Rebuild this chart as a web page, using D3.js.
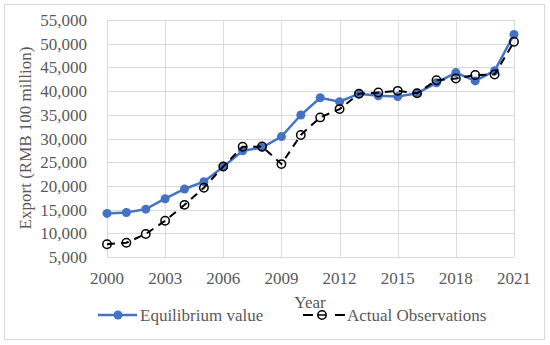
<!DOCTYPE html>
<html>
<head>
<meta charset="utf-8">
<script src="https://cdn.jsdelivr.net/npm/d3@7"></script>
<style>
  body { margin: 0; background: #fff; }
  text { font-family: "Liberation Serif", "Times New Roman", serif; fill: #595959; }
</style>
</head>
<body>
<svg id="chart" width="550" height="345"></svg>
<script>
'use strict';

// data
var years = d3.range(2000, 2022);
var equilibrium = [14200, 14400, 15100, 17300, 19350, 20900, 24050, 27400, 28100, 30400,
                   34950, 38600, 37750, 39450, 39000, 38850, 39550, 41750, 43900, 42150,
                   44300, 51950];
var actual = [7700, 8000, 9850, 12650, 16000, 19600, 24100, 28250, 28300, 24600,
              30750, 34450, 36200, 39450, 39700, 40050, 39550, 42300, 42650, 43400,
              43500, 50400];
var xTicks = [2000, 2003, 2006, 2009, 2012, 2015, 2018, 2021];
var yTicks = d3.range(5000, 55001, 5000);

var svg = d3.select('#chart');

// outer frame
svg.append('rect')
  .attr('x', 4.5).attr('y', 4.5).attr('width', 540).attr('height', 335)
  .attr('fill', '#fff').attr('stroke', '#d9d9d9');

var x = d3.scaleLinear().domain([2000, 2021]).range([107, 514]);
var y = d3.scaleLinear().domain([5000, 55000]).range([257, 20]);

// grid
svg.append('g').selectAll('line').data(yTicks).enter().append('line')
  .attr('x1', x(2000)).attr('x2', x(2021))
  .attr('y1', function(d){ return Math.round(y(d)) + 0.5; })
  .attr('y2', function(d){ return Math.round(y(d)) + 0.5; })
  .attr('stroke', '#d9d9d9');
svg.append('g').selectAll('line').data(xTicks).enter().append('line')
  .attr('y1', y(5000)).attr('y2', y(55000))
  .attr('x1', function(d){ return Math.round(x(d)) + 0.5; })
  .attr('x2', function(d){ return Math.round(x(d)) + 0.5; })
  .attr('stroke', '#d9d9d9');

// tick labels
svg.append('g').selectAll('text').data(yTicks).enter().append('text')
  .attr('x', 87).attr('y', function(d){ return y(d) + 6; })
  .attr('text-anchor', 'end').attr('font-size', 17)
  .text(d3.format(','));
svg.append('g').selectAll('text').data(xTicks).enter().append('text')
  .attr('x', function(d){ return x(d); }).attr('y', 283.5)
  .attr('text-anchor', 'middle').attr('font-size', 17)
  .text(function(d){ return d; });

// axis titles
svg.append('text')
  .attr('transform', 'translate(31,138) rotate(-90)')
  .attr('text-anchor', 'middle').attr('font-size', 17)
  .text('Export (RMB 100 million)');
svg.append('text')
  .attr('x', 310).attr('y', 308)
  .attr('text-anchor', 'middle').attr('font-size', 17)
  .text('Year');

var line = d3.line()
  .x(function(d, i){ return x(years[i]); })
  .y(function(d){ return y(d); });

// equilibrium series
svg.append('path').datum(equilibrium)
  .attr('d', line).attr('fill', 'none')
  .attr('stroke', '#4472c4').attr('stroke-width', 2.5);
svg.append('g').selectAll('circle').data(equilibrium).enter().append('circle')
  .attr('cx', function(d, i){ return x(years[i]); })
  .attr('cy', function(d){ return y(d); })
  .attr('r', 4.5).attr('fill', '#4472c4');

// actual observations
svg.append('path').datum(actual)
  .attr('d', line).attr('fill', 'none')
  .attr('stroke', '#000').attr('stroke-width', 2)
  .attr('stroke-dasharray', '8,6');
svg.append('g').selectAll('circle').data(actual).enter().append('circle')
  .attr('cx', function(d, i){ return x(years[i]); })
  .attr('cy', function(d){ return y(d); })
  .attr('r', 4.2).attr('fill', 'none')
  .attr('stroke', '#000').attr('stroke-width', 1.5);

// legend
var ly = 315;
svg.append('line').attr('x1', 98).attr('x2', 137).attr('y1', ly).attr('y2', ly)
  .attr('stroke', '#4472c4').attr('stroke-width', 2.5);
svg.append('circle').attr('cx', 118).attr('cy', ly).attr('r', 4.5).attr('fill', '#4472c4');
svg.append('text').attr('x', 140).attr('y', ly + 6).attr('font-size', 17)
  .text('Equilibrium value');

svg.append('line').attr('x1', 303).attr('x2', 313).attr('y1', ly).attr('y2', ly)
  .attr('stroke', '#000').attr('stroke-width', 2);
svg.append('line').attr('x1', 335).attr('x2', 345).attr('y1', ly).attr('y2', ly)
  .attr('stroke', '#000').attr('stroke-width', 2);
svg.append('circle').attr('cx', 322).attr('cy', ly).attr('r', 4.2).attr('fill', 'none')
  .attr('stroke', '#000').attr('stroke-width', 1.5);
svg.append('line').attr('x1', 318).attr('x2', 326).attr('y1', ly).attr('y2', ly)
  .attr('stroke', '#000').attr('stroke-width', 1.5);
svg.append('text').attr('x', 347).attr('y', ly + 6).attr('font-size', 17)
  .text('Actual Observations');
</script>
</body>
</html>
